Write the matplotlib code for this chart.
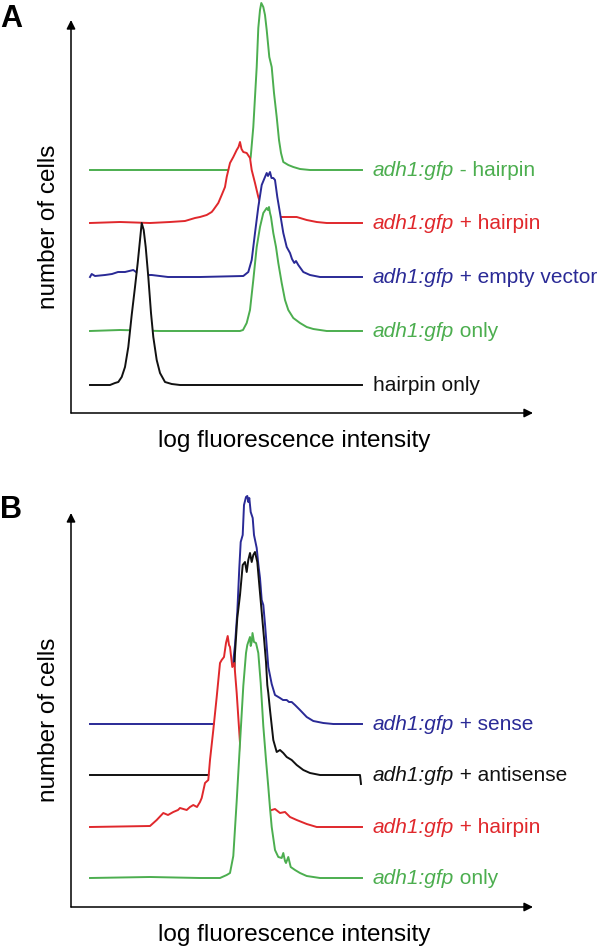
import matplotlib
matplotlib.use('Agg')
import matplotlib.pyplot as plt

plt.rcParams['font.family'] = ['Liberation Sans', 'DejaVu Sans']

# ---------------- data ----------------
# Panel A traces (x: log fluorescence, a.u.; y: number of cells, a.u.)
a_minus_x = [90, 240, 248, 250.7, 253.3, 256.7, 258.3, 260, 261.3, 263.3, 265, 266.7, 269.3,
             271.7, 274, 276.7, 279, 281, 283.3, 288.3, 293.3, 300, 310, 362]
a_minus_y = [0, 0, 1, 13, 43, 103, 142, 160, 167, 163, 155, 140, 113,
             103, 77, 53, 30, 17, 8, 5, 3, 1, 0, 0]

a_hp_x = [90, 120, 150, 170, 185, 195, 200, 206.7, 211.7, 213.3, 218.3, 221.7, 225, 226.7, 230,
          233.3, 236.7, 238.5, 240, 241.5, 243.3, 246.7, 250, 251.7, 255, 258.3, 261.7, 266.7,
          273.3, 283.3, 290, 296.7, 306.7, 316.7, 326.7, 362]
a_hp_y = [0, 1, 0, 1, 2, 5, 6, 8, 11, 13, 20, 28, 36, 46, 60,
          66, 73, 76, 81, 74, 71, 70, 65, 53, 40, 26, 15, 8,
          6, 6, 6, 6, 3, 1, 0, 0]

a_ev_x = [90, 91.7, 95, 105, 112, 118, 125, 133.3, 136, 138.3, 145, 151.7, 168, 200, 243.3,
          248.3, 251.7, 255, 258.3, 261.7, 265, 266.7, 268, 270, 271.5, 273.3, 275, 277.3, 280,
          283.3, 286.7, 290, 292, 294.3, 296, 298.3, 303.3, 310, 320, 362]
a_ev_y = [0, 3, 1, 2, 3, 5, 5, 7, 5, 4, 2, 2, 0, 0, 1,
          5, 17, 44, 70, 92, 100, 104, 101, 105, 99, 99, 97, 80, 64,
          44, 30, 24, 18, 14, 16, 12, 5, 2, 0, 0]

a_only_x = [90, 120, 160, 240, 243, 246.7, 250, 253.3, 256.7, 260, 263.3, 266.7, 268, 269, 270,
            271, 273.3, 276, 278.3, 281.7, 285, 288.3, 293.3, 300, 306.7, 313.3, 326.7, 362]
a_only_y = [0, 1, 0, 0, 1, 8, 21, 51, 84, 104, 118, 123, 121, 124, 118,
            114, 98, 84, 68, 48, 31, 21, 13, 8, 4, 2, 0, 0]

a_hponly_x = [90, 110, 115, 118.3, 121.7, 125, 128.3, 131.7, 135, 137.7, 140, 141.7, 143.7,
              145.7, 148.3, 151, 153.3, 156.7, 160, 165, 171.7, 180, 362]
a_hponly_y = [0, 0, 2, 3, 8, 18, 38, 70, 98, 122, 145, 162, 155,
              138, 108, 72, 48, 25, 12, 3, 1, 0, 0]

a_labels = [("adh1:gfp", " - hairpin"), ("adh1:gfp", " + hairpin"),
            ("adh1:gfp", " + empty vector"), ("adh1:gfp", " only"), ("", "hairpin only")]

# Panel B traces
b_sense_x = [90, 150, 200, 215, 222, 226, 230, 233.3, 235, 237.3, 239.3, 240.7, 242.7, 244, 246,
             247.3, 248.3, 249.3, 250.7, 252.7, 254, 256.7, 258.3, 260, 261.7, 263.3, 265, 266.7,
             268.3, 269.3, 271.7, 275, 280, 283, 286.7, 289, 291.7, 295, 300, 306.7, 310, 313.3,
             323.3, 333.3, 362]
b_sense_y = [0, 0, 0, 0, 2, 14, 38, 63, 79, 112, 156, 182, 189, 219, 227,
             228, 222, 226, 212, 206, 189, 176, 160, 146, 124, 119, 100, 78,
             57, 52, 40, 29, 26, 24, 24, 22, 22, 19, 14, 7, 5, 3,
             1, 0, 0]

b_anti_x = [90, 150, 208, 222, 226, 230, 233, 235, 237.3, 240, 242.7, 245, 246.7, 248.3, 250,
            251.7, 253.3, 255, 257.3, 259.3, 261.7, 264, 266, 267.3, 268.3, 270, 273.3, 276.7,
            280, 283.3, 286.7, 291.7, 296.7, 303.3, 310, 320, 360, 361]
b_anti_y = [0, 0, 0, 2, 10, 30, 70, 122, 157, 180, 210, 213, 203, 215, 222,
            213, 220, 223, 213, 190, 163, 137, 113, 90, 82, 65, 35, 23,
            25, 22, 18, 15, 10, 5, 2, 0, 0, -9]

b_hp_x = [90, 150, 156.7, 163.3, 168, 173.3, 178, 180, 186.7, 190, 193.3, 197, 200, 201.7, 205,
          208.3, 210, 213.3, 216.7, 220, 221.7, 224, 226, 227.7, 229, 230, 232.3, 234.3, 236.7,
          240, 243, 246, 250, 260, 268, 271.7, 275, 280, 285, 290, 296.7, 306.7, 316.7, 323.3, 362]
b_hp_y = [0, 1, 7, 14, 12, 15, 17, 19, 17, 20, 22, 20, 25, 29, 44,
          47, 67, 97, 130, 164, 167, 170, 184, 191, 182, 180, 160, 164, 134,
          84, 40, 18, 16, 16, 16, 17, 18, 14, 15, 10, 7, 3, 0, 0, 0]

b_only_x = [90, 150, 200, 220, 226.7, 230, 233.3, 236.7, 240, 243.3, 246, 247.3, 248.3, 250,
            250.7, 251.7, 252.5, 254, 256, 258.3, 260.7, 263.3, 266, 268.3, 270, 271.7, 275,
            278.3, 281.7, 283.3, 285, 286, 288.3, 290.7, 295, 300, 306.7, 320, 362]
b_only_y = [0, 1, 0, 0, 3, 5, 22, 77, 135, 192, 225, 233, 236, 241,
            232, 236, 245, 236, 235, 225, 195, 152, 118, 91, 70, 51, 28,
            21, 20, 25, 17, 15, 21, 11, 8, 5, 2, 0, 0]

b_labels = [("adh1:gfp", " + sense"), ("adh1:gfp", " + antisense"),
            ("adh1:gfp", " + hairpin"), ("adh1:gfp", " only")]

# ---------------- layout / style ----------------
W, H, DPI = 598, 946, 100
GREEN, RED, BLUE, BLACK = '#4cae4f', '#e0282c', '#2a2a96', '#111111'
fig = plt.figure(figsize=(W / DPI, H / DPI), dpi=DPI)
renderer = fig.canvas.get_renderer()

AX_L, AX_R = 71, 533  # pixel extents of the axes


def panel(top_px, axis_px, traces, offsets, colors, labels, letter, letter_base,
          ylab_y, xlab_base):
    rect = [AX_L / W, (H - axis_px) / H, (AX_R - AX_L) / W, (axis_px - top_px) / H]
    ax = fig.add_axes(rect)
    ax.set_xlim(AX_L, AX_R)
    ax.set_ylim(0, axis_px - top_px)
    ax.axis('off')
    ap = dict(arrowstyle='-|>', color='black', lw=1.1, mutation_scale=13,
              shrinkA=0, shrinkB=0)
    ax.annotate('', xy=(0, 1), xytext=(0, 0), xycoords='axes fraction', arrowprops=ap)
    ax.annotate('', xy=(1, 0), xytext=(0, 0), xycoords='axes fraction', arrowprops=ap)

    for i, ((x, y), off, col, (ital, rest)) in enumerate(zip(traces, offsets, colors, labels)):
        z = 2 + 2 * i
        yy = [v + off for v in y]
        ax.fill_between(x, off, yy, color='white', lw=0, zorder=z, clip_on=False)
        ax.plot(x, yy, color=col, lw=1.4, zorder=z + 1, clip_on=False,
                solid_joinstyle='round')
        tx = 373
        ty = off - 6
        if ital:
            t = ax.text(tx, ty, ital, style='italic', color=col, fontsize=15,
                        va='baseline', ha='left')
            bb = t.get_window_extent(renderer)
            tx = ax.transData.inverted().transform((bb.x1, bb.y0))[0]
        ax.text(tx, ty, rest, color=col, fontsize=15, va='baseline', ha='left')

    fig.text(0, 1 - letter_base / H, letter, fontsize=22, fontweight='bold',
             va='baseline', ha='left')
    fig.text(55 / W, 1 - ylab_y / H, 'number of cells', fontsize=17.5, rotation=90,
             rotation_mode='anchor', ha='center', va='baseline')
    fig.text(((AX_L + AX_R) / 2 - 8) / W, 1 - xlab_base / H, 'log fluorescence intensity',
             fontsize=17.5, ha='center', va='baseline')
    return ax


panel(20, 413,
      [(a_minus_x, a_minus_y), (a_hp_x, a_hp_y), (a_ev_x, a_ev_y),
       (a_only_x, a_only_y), (a_hponly_x, a_hponly_y)],
      [243, 190, 136, 82, 28],
      [GREEN, RED, BLUE, GREEN, BLACK], a_labels, 'A', 27, 227, 447)

panel(513, 907,
      [(b_sense_x, b_sense_y), (b_anti_x, b_anti_y), (b_hp_x, b_hp_y),
       (b_only_x, b_only_y)],
      [183, 132, 80, 29],
      [BLUE, BLACK, RED, GREEN], b_labels, 'B', 518, 720, 941)

fig.savefig('out.png', dpi=DPI)
